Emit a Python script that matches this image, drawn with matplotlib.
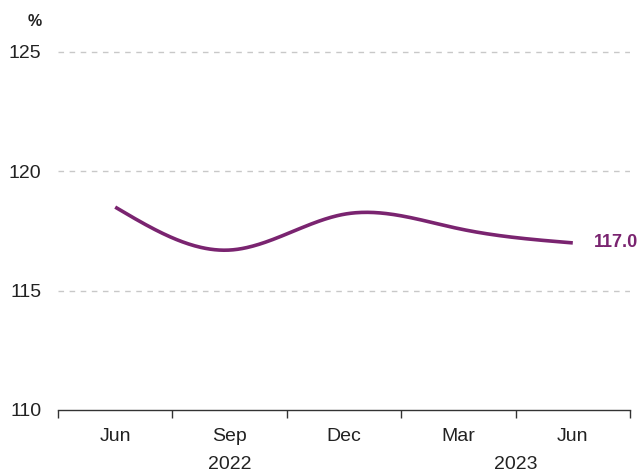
import numpy as np
import matplotlib
matplotlib.use("Agg")
import matplotlib.pyplot as plt

quarters = ["Jun", "Sep", "Dec", "Mar", "Jun"]
years = ["2022", "2023"]
values = [118.5, 116.7, 118.2, 117.6, 117.0]
yticks = [110, 115, 120, 125]

color = "#7A2470"
plt.rcParams['font.family'] = ['Liberation Sans', 'DejaVu Sans']

def spline(x, y, n=300):
    x = np.asarray(x, float); y = np.asarray(y, float)
    k = len(x)
    h = np.diff(x)
    A = np.zeros((k, k)); b = np.zeros(k)
    A[0, 0] = A[-1, -1] = 1
    for i in range(1, k - 1):
        A[i, i - 1] = h[i - 1]; A[i, i] = 2 * (h[i - 1] + h[i]); A[i, i + 1] = h[i]
        b[i] = 3 * ((y[i + 1] - y[i]) / h[i] - (y[i] - y[i - 1]) / h[i - 1])
    c = np.linalg.solve(A, b)
    xs = np.linspace(x[0], x[-1], n)
    ys = np.empty_like(xs)
    for j, xv in enumerate(xs):
        i = min(np.searchsorted(x, xv, side='right') - 1, k - 2)
        d = xv - x[i]
        bi = (y[i + 1] - y[i]) / h[i] - h[i] * (2 * c[i] + c[i + 1]) / 3
        di = (c[i + 1] - c[i]) / (3 * h[i])
        ys[j] = y[i] + bi * d + c[i] * d**2 + di * d**3
    return xs, ys

fig = plt.figure(figsize=(6.4, 4.76), dpi=100)
ax = fig.add_axes([58/640, 1 - 410/476, (630 - 58)/640, (410 - 40)/476])
x = np.arange(len(values))
xs, ys = spline(x, values)
ax.plot(xs, ys, color=color, lw=2.6, solid_capstyle='butt')
ax.annotate(f"{values[-1]:.1f}", (x[-1], values[-1]), xytext=(15, 0), textcoords='offset points',
            va='center', ha='left', color=color, fontsize=13, fontweight='bold')

ax.set_xlim(-0.5, len(values) - 0.5)
ax.set_ylim(110, 125.5)
ax.set_yticks(yticks)
ax.set_yticklabels([str(t) for t in yticks], fontsize=14, color='#222222')
for t in yticks[1:]:
    ax.axhline(t, color='#c8c8c8', lw=1, ls=(0, (4, 4)), zorder=0)
ax.set_xticks(np.arange(-0.5, len(values)), minor=False)
ax.set_xticklabels([])
ax.set_xticks(x, minor=True)
ax.set_xticklabels(quarters, minor=True, fontsize=14, color='#222222')
ax.tick_params(axis='x', which='major', length=6, width=1, color='#333333', direction='out')
ax.tick_params(axis='x', which='minor', length=0, pad=13)
ax.tick_params(axis='y', length=0, pad=12)
for s in ['top', 'right', 'left']:
    ax.spines[s].set_visible(False)
ax.spines['bottom'].set_color('#333333')
ax.spines['bottom'].set_linewidth(1)

ax.text(1, -0.125, years[0], transform=ax.get_xaxis_transform(), ha='center', va='top', fontsize=14, color='#222222')
ax.text(3.5, -0.125, years[1], transform=ax.get_xaxis_transform(), ha='center', va='top', fontsize=14, color='#222222')
fig.text(35/640, 1 - 22/476, "%", ha='center', va='center', fontsize=11.5, fontweight='bold', color='#222222')

fig.savefig("out.png", dpi=100)
